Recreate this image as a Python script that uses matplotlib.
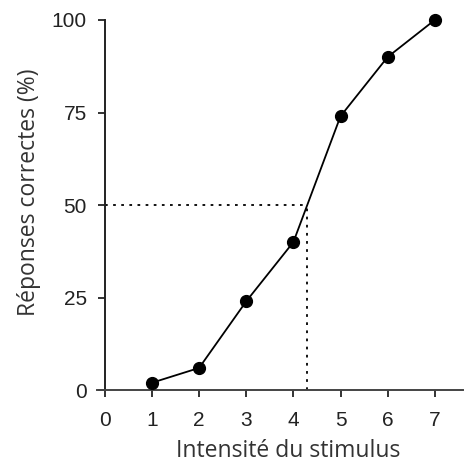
import numpy as np
import matplotlib.pyplot as plt

intensite = [1, 2, 3, 4, 5, 6, 7]
reponses = [2, 6, 24, 40, 74, 90, 100]
x_ticks = [0, 1, 2, 3, 4, 5, 6, 7]
y_ticks = [0, 25, 50, 75, 100]
seuil = 50

# point ou la courbe croise 50 %
x_seuil = np.interp(seuil, reponses, intensite)

fig = plt.figure(figsize=(4.66, 4.65), dpi=100)
ax = fig.add_axes([0.225, 0.161, 0.708, 0.796])

ax.plot(intensite, reponses, color='black', linewidth=1.3, marker='o',
        markersize=8.5, clip_on=False, zorder=3)
ax.plot([0, x_seuil], [seuil, seuil], color='black', linestyle=(0, (1.5, 3)),
        linewidth=1.3, clip_on=False)
ax.plot([x_seuil, x_seuil], [0, seuil], color='black', linestyle=(0, (1.5, 3)),
        linewidth=1.3, clip_on=False)

ax.set_xlim(0, 7)
ax.set_ylim(0, 100)
ax.set_xticks(x_ticks)
ax.set_yticks(y_ticks)
ax.spines['top'].set_visible(False)
ax.spines['right'].set_visible(False)
ax.spines['bottom'].set_bounds(-0.17, 7.6)
ax.spines['left'].set_linewidth(1.4)
ax.spines['bottom'].set_linewidth(1.4)
ax.spines['left'].set_color('#222222')
ax.spines['bottom'].set_color('#444444')
ax.tick_params(direction='out', length=5, width=1.4, labelsize=15,
               color='#333333')
ax.tick_params(axis='x', pad=10)
ax.tick_params(axis='y', pad=8)
for lab in ax.get_xticklabels() + ax.get_yticklabels():
    lab.set_fontfamily('Liberation Sans')
    lab.set_color('#222222')

ax.set_xlabel('Intensité du stimulus', fontsize=16.5, family='Open Sans',
              color='#333333')
ax.set_ylabel('Réponses correctes (%)', fontsize=16.5, family='Open Sans',
              color='#333333')
ax.xaxis.set_label_coords(0.557, -0.133)
ax.yaxis.set_label_coords(-0.193, 0.535)

fig.savefig('out.png', dpi=100)
